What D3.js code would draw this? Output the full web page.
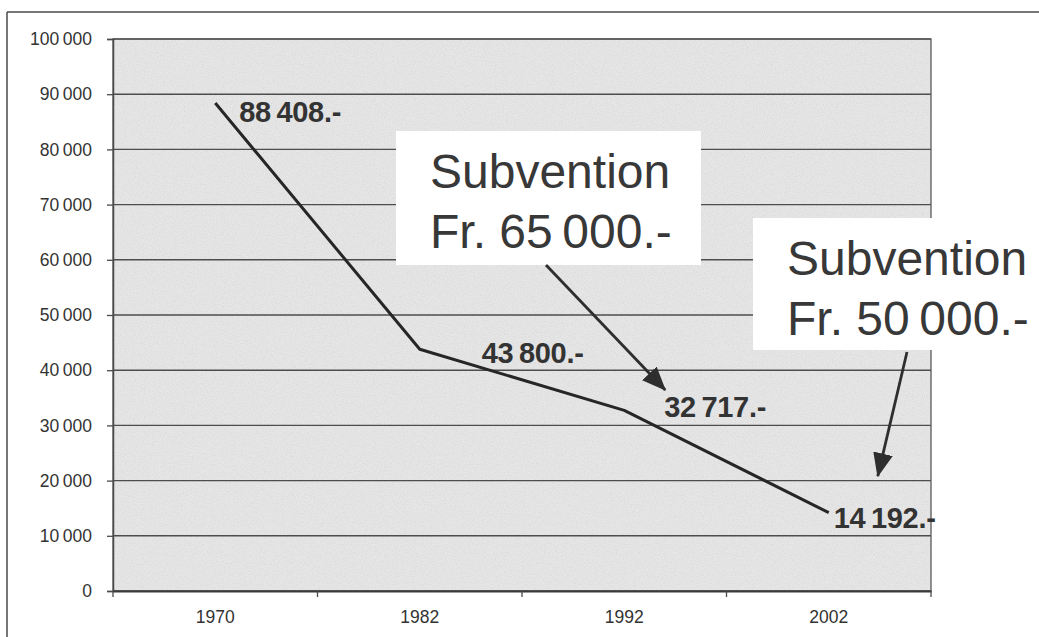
<!DOCTYPE html>
<html>
<head>
<meta charset="utf-8">
<script src="https://cdn.jsdelivr.net/npm/d3@7"></script>
<style>
  html, body { margin: 0; padding: 0; background: #fff; }
  svg { display: block; font-family: "Liberation Sans", Arial, sans-serif; }
</style>
</head>
<body>
<svg id="chart" width="1039" height="637"></svg>
<script>
// ---- data ----
const years = ["1970", "1982", "1992", "2002"];
const amounts = [88408, 43800, 32717, 14192];
const yTicks = [0, 10000, 20000, 30000, 40000, 50000, 60000, 70000, 80000, 90000, 100000];
const subventionLines1 = ["Subvention", "Fr. 65\u2009000.-"];
const subventionLines2 = ["Subvention", "Fr. 50\u2009000.-"];

// ---- layout / style (not data) ----
const W = 1039, H = 637;
const plot = { left: 113, top: 39, right: 931, bottom: 591 };
const labelOffsets = [[24, 19], [62, 14], [40, 7], [5, 15]];
const textCol = "#333", lineCol = "#4a4a4a";

const svg = d3.select("#chart");
const loc = d3.formatLocale({ decimal: ".", thousands: "\u2009", grouping: [3], currency: ["", ""] });
const fmt = loc.format(",");

const x = d3.scaleBand().domain(years).range([plot.left, plot.right]).padding(0);
const y = d3.scaleLinear().domain([0, 100000]).range([plot.bottom, plot.top]);
const cx = d => x(d) + x.bandwidth() / 2;

// defs: grain filter + arrow marker
const defs = svg.append("defs");
const f = defs.append("filter").attr("id", "grain").attr("x", 0).attr("y", 0).attr("width", 1).attr("height", 1);
f.append("feTurbulence").attr("type", "fractalNoise").attr("baseFrequency", 0.9).attr("numOctaves", 2).attr("seed", 3).attr("result", "n");
f.append("feColorMatrix").attr("in", "n").attr("type", "matrix")
  .attr("values", "0 0 0 0 0.4  0 0 0 0 0.4  0 0 0 0 0.4  0 0 0 -0.5 0.3").attr("result", "g");
f.append("feComposite").attr("in", "g").attr("in2", "SourceGraphic").attr("operator", "in").attr("result", "g2");
f.append("feMerge").call(m => { m.append("feMergeNode").attr("in", "SourceGraphic"); m.append("feMergeNode").attr("in", "g2"); });

defs.append("marker").attr("id", "arrow").attr("markerUnits", "userSpaceOnUse")
  .attr("viewBox", "0 0 24 20").attr("markerWidth", 24).attr("markerHeight", 20)
  .attr("refX", 23).attr("refY", 10).attr("orient", "auto")
  .append("path").attr("d", "M0,0 L24,10 L0,20 Z").attr("fill", "#2e2e2e");

// outer frame (top & left visible)
svg.append("line").attr("x1", 7).attr("x2", W).attr("y1", 12).attr("y2", 12).attr("stroke", lineCol).attr("stroke-width", 1.5);
svg.append("line").attr("x1", 7).attr("x2", 7).attr("y1", 12).attr("y2", H).attr("stroke", lineCol).attr("stroke-width", 1.5);

// plot background
svg.append("rect").attr("x", plot.left).attr("y", plot.top)
  .attr("width", plot.right - plot.left).attr("height", plot.bottom - plot.top)
  .attr("fill", "#e6e6e6").attr("filter", "url(#grain)");

// gridlines
svg.append("g").selectAll("line").data(yTicks).join("line")
  .attr("x1", plot.left).attr("x2", plot.right)
  .attr("y1", d => y(d)).attr("y2", d => y(d))
  .attr("stroke", "#4d4d4d").attr("stroke-width", 1.4);

// plot border
svg.append("rect").attr("x", plot.left).attr("y", plot.top)
  .attr("width", plot.right - plot.left).attr("height", plot.bottom - plot.top)
  .attr("fill", "none").attr("stroke", "#5a5a5a").attr("stroke-width", 1.3);

// y axis
const yAxis = svg.append("g").attr("transform", `translate(${plot.left},0)`)
  .call(d3.axisLeft(y).tickValues(yTicks).tickSize(6).tickPadding(15).tickFormat(fmt));
yAxis.select(".domain").attr("stroke", lineCol).attr("stroke-width", 1.5);
yAxis.selectAll(".tick line").attr("stroke", lineCol).attr("stroke-width", 1.3);
yAxis.selectAll(".tick text").attr("fill", textCol).attr("font-size", 17.5).attr("font-family", "Liberation Sans, Arial, sans-serif");

// x axis
const xAxis = svg.append("g").attr("transform", `translate(0,${plot.bottom})`)
  .call(d3.axisBottom(x).tickSize(0).tickPadding(20));
xAxis.select(".domain").attr("stroke", "#3a3a3a").attr("stroke-width", 2);
xAxis.selectAll(".tick text").attr("fill", textCol).attr("font-size", 17.5).attr("font-family", "Liberation Sans, Arial, sans-serif");
const bounds = years.map(d => x(d)).concat([x(years[years.length - 1]) + x.bandwidth()]);
xAxis.append("g").selectAll("line").data(bounds).join("line")
  .attr("x1", d => d).attr("x2", d => d).attr("y1", 0).attr("y2", 6)
  .attr("stroke", lineCol).attr("stroke-width", 1.3);

// series line
const pts = years.map((yr, i) => ({ yr, v: amounts[i], i }));
svg.append("path").datum(pts)
  .attr("d", d3.line().x(d => cx(d.yr)).y(d => y(d.v)))
  .attr("fill", "none").attr("stroke", "#262626").attr("stroke-width", 3).attr("stroke-linejoin", "round");

// value labels
svg.append("g").selectAll("text").data(pts).join("text")
  .attr("x", d => cx(d.yr) + labelOffsets[d.i][0])
  .attr("y", d => y(d.v) + labelOffsets[d.i][1])
  .attr("font-size", 29).attr("font-weight", "bold").attr("fill", "#333")
  .attr("letter-spacing", -0.3)
  .text(d => fmt(d.v) + ".-");

// annotation boxes
function box(bx, by, bw, bh, lines, tx, ty) {
  svg.append("rect").attr("x", bx).attr("y", by).attr("width", bw).attr("height", bh).attr("fill", "#fff");
  svg.append("g").selectAll("text").data(lines).join("text")
    .attr("x", tx).attr("y", (d, i) => ty + i * 60)
    .attr("font-size", 48).attr("fill", "#383838").text(d => d);
}
box(396, 131, 305, 134, subventionLines1, 430, 188);
box(753, 218, W - 753, 132, subventionLines2, 787, 275);

// arrows
function arrow(x1, y1, x2, y2) {
  svg.append("line").attr("x1", x1).attr("y1", y1).attr("x2", x2).attr("y2", y2)
    .attr("stroke", "#2e2e2e").attr("stroke-width", 2.8).attr("marker-end", "url(#arrow)");
}
arrow(546, 265, cx("1992") + 41, y(36400));
arrow(907, 352, cx("2002") + 49, y(20800));
</script>
</body>
</html>
